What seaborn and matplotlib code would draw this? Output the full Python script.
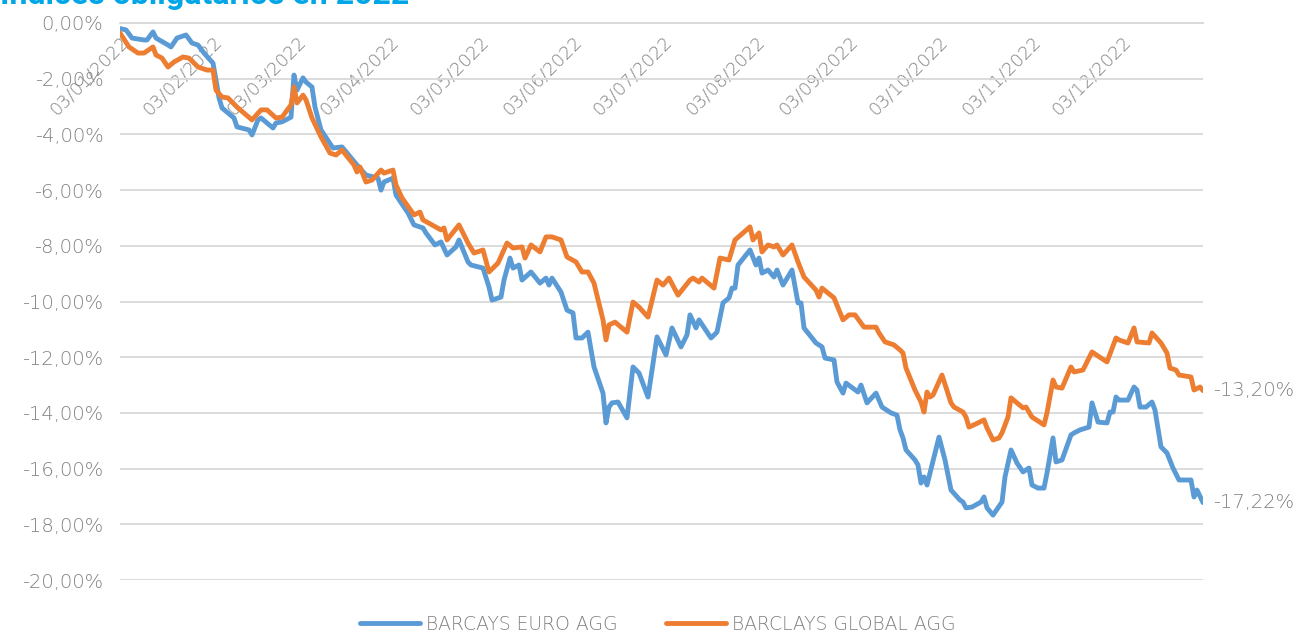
import pandas as pd
import matplotlib
matplotlib.use('Agg')
import matplotlib.pyplot as plt
import matplotlib.dates as mdates
import seaborn as sns

# Datos (rentabilidad acumulada en %)
euro_dates = [
    '2022-01-03', '2022-01-05', '2022-01-07', '2022-01-11', '2022-01-12', '2022-01-14', '2022-01-15',
    '2022-01-19', '2022-01-20', '2022-01-22', '2022-01-25', '2022-01-27', '2022-01-29', '2022-01-31',
    '2022-02-03', '2022-02-04', '2022-02-05', '2022-02-06', '2022-02-10', '2022-02-11', '2022-02-15',
    '2022-02-16', '2022-02-18', '2022-02-19', '2022-02-23', '2022-02-24', '2022-02-26', '2022-03-01',
    '2022-03-02', '2022-03-03', '2022-03-05', '2022-03-06', '2022-03-08', '2022-03-09', '2022-03-11',
    '2022-03-15', '2022-03-18', '2022-03-23', '2022-03-26', '2022-03-30', '2022-03-31', '2022-04-01',
    '2022-04-04', '2022-04-05', '2022-04-09', '2022-04-11', '2022-04-14', '2022-04-15', '2022-04-18',
    '2022-04-20', '2022-04-22', '2022-04-25', '2022-04-26', '2022-04-29', '2022-04-30', '2022-05-04',
    '2022-05-06', '2022-05-07', '2022-05-10', '2022-05-11', '2022-05-13', '2022-05-14', '2022-05-16',
    '2022-05-17', '2022-05-20', '2022-05-23', '2022-05-25', '2022-05-26', '2022-05-27', '2022-05-30',
    '2022-06-01', '2022-06-03', '2022-06-04', '2022-06-06', '2022-06-08', '2022-06-10', '2022-06-13',
    '2022-06-14', '2022-06-15', '2022-06-16', '2022-06-18', '2022-06-21', '2022-06-23', '2022-06-25',
    '2022-06-28', '2022-07-01', '2022-07-04', '2022-07-06', '2022-07-09', '2022-07-11', '2022-07-12',
    '2022-07-14', '2022-07-15', '2022-07-19', '2022-07-21', '2022-07-23', '2022-07-25', '2022-07-26',
    '2022-07-27', '2022-07-28', '2022-08-01', '2022-08-03', '2022-08-04', '2022-08-05', '2022-08-07',
    '2022-08-09', '2022-08-10', '2022-08-12', '2022-08-15', '2022-08-17', '2022-08-18', '2022-08-19',
    '2022-08-23', '2022-08-25', '2022-08-26', '2022-08-29', '2022-08-30', '2022-09-01', '2022-09-02',
    '2022-09-06', '2022-09-07', '2022-09-09', '2022-09-12', '2022-09-14', '2022-09-17', '2022-09-19',
    '2022-09-20', '2022-09-21', '2022-09-22', '2022-09-25', '2022-09-26', '2022-09-27', '2022-09-28',
    '2022-09-29', '2022-10-03', '2022-10-05', '2022-10-07', '2022-10-10', '2022-10-11', '2022-10-12',
    '2022-10-14', '2022-10-17', '2022-10-18', '2022-10-19', '2022-10-21', '2022-10-24', '2022-10-25',
    '2022-10-27', '2022-10-29', '2022-10-31', '2022-11-02', '2022-11-03', '2022-11-05', '2022-11-07',
    '2022-11-08', '2022-11-10', '2022-11-11', '2022-11-13', '2022-11-16', '2022-11-17', '2022-11-19',
    '2022-11-22', '2022-11-23', '2022-11-25', '2022-11-28', '2022-11-29', '2022-11-30', '2022-12-01',
    '2022-12-02', '2022-12-05', '2022-12-07', '2022-12-08', '2022-12-09', '2022-12-11', '2022-12-13',
    '2022-12-14', '2022-12-16', '2022-12-18', '2022-12-20', '2022-12-22', '2022-12-26', '2022-12-27',
    '2022-12-28', '2022-12-30',
]
euro_values = [
    -0.20, -0.25, -0.54, -0.61, -0.61, -0.32, -0.54,
    -0.79, -0.86, -0.54, -0.43, -0.72, -0.79, -1.08,
    -1.44, -2.05, -2.69, -3.05, -3.41, -3.73, -3.84,
    -4.02, -3.48, -3.41, -3.77, -3.59, -3.55, -3.38,
    -1.87, -2.41, -1.97, -2.12, -2.30, -3.02, -3.84,
    -4.49, -4.45, -5.10, -5.46, -5.57, -6.00, -5.71,
    -5.57, -6.18, -6.82, -7.25, -7.36, -7.54, -7.97,
    -7.86, -8.33, -8.04, -7.79, -8.58, -8.69, -8.80,
    -9.48, -9.95, -9.84, -9.23, -8.44, -8.80, -8.69,
    -9.23, -8.94, -9.34, -9.16, -9.41, -9.16, -9.66,
    -10.31, -10.41, -11.31, -11.31, -11.10, -12.35, -13.29,
    -14.36, -13.79, -13.64, -13.61, -14.18, -12.35, -12.57,
    -13.43, -11.27, -11.92, -10.95, -11.63, -11.20, -10.48,
    -10.95, -10.66, -11.31, -11.10, -10.05, -9.87, -9.52,
    -9.52, -8.69, -8.15, -8.69, -8.44, -8.98, -8.87,
    -9.12, -8.87, -9.41, -8.87, -10.05, -10.05, -10.95,
    -11.49, -11.63, -12.03, -12.10, -12.89, -13.29, -12.93,
    -13.25, -13.00, -13.64, -13.29, -13.79, -14.00, -14.08,
    -14.61, -14.90, -15.33, -15.69, -15.87, -16.52, -16.30,
    -16.59, -14.87, -15.69, -16.77, -17.13, -17.20, -17.41,
    -17.38, -17.20, -17.02, -17.41, -17.67, -17.20, -16.30,
    -15.33, -15.80, -16.12, -15.98, -16.59, -16.70, -16.70,
    -16.16, -14.90, -15.76, -15.69, -14.79, -14.72, -14.61,
    -14.51, -13.64, -14.33, -14.36, -13.97, -13.97, -13.43,
    -13.54, -13.54, -13.07, -13.18, -13.79, -13.79, -13.61,
    -13.90, -15.22, -15.44, -15.98, -16.41, -16.41, -17.02,
    -16.77, -17.22,
]

global_dates = [
    '2022-01-03', '2022-01-06', '2022-01-09', '2022-01-11', '2022-01-14', '2022-01-15', '2022-01-17',
    '2022-01-19', '2022-01-21', '2022-01-24', '2022-01-26', '2022-01-29', '2022-02-01', '2022-02-03',
    '2022-02-04', '2022-02-06', '2022-02-08', '2022-02-11', '2022-02-16', '2022-02-19', '2022-02-21',
    '2022-02-24', '2022-02-26', '2022-03-01', '2022-03-02', '2022-03-03', '2022-03-05', '2022-03-06',
    '2022-03-08', '2022-03-11', '2022-03-14', '2022-03-16', '2022-03-18', '2022-03-22', '2022-03-23',
    '2022-03-24', '2022-03-26', '2022-03-28', '2022-03-31', '2022-04-01', '2022-04-04', '2022-04-05',
    '2022-04-07', '2022-04-11', '2022-04-13', '2022-04-14', '2022-04-17', '2022-04-20', '2022-04-21',
    '2022-04-22', '2022-04-26', '2022-04-29', '2022-05-01', '2022-05-04', '2022-05-06', '2022-05-09',
    '2022-05-12', '2022-05-14', '2022-05-17', '2022-05-18', '2022-05-20', '2022-05-23', '2022-05-25',
    '2022-05-27', '2022-05-30', '2022-06-01', '2022-06-04', '2022-06-06', '2022-06-08', '2022-06-10',
    '2022-06-13', '2022-06-14', '2022-06-15', '2022-06-17', '2022-06-21', '2022-06-23', '2022-06-25',
    '2022-06-28', '2022-07-01', '2022-07-03', '2022-07-05', '2022-07-08', '2022-07-12', '2022-07-13',
    '2022-07-15', '2022-07-16', '2022-07-20', '2022-07-22', '2022-07-25', '2022-07-27', '2022-08-01',
    '2022-08-02', '2022-08-04', '2022-08-05', '2022-08-07', '2022-08-09', '2022-08-10', '2022-08-12',
    '2022-08-15', '2022-08-17', '2022-08-19', '2022-08-23', '2022-08-24', '2022-08-25', '2022-08-29',
    '2022-09-01', '2022-09-03', '2022-09-05', '2022-09-07', '2022-09-08', '2022-09-12', '2022-09-13',
    '2022-09-15', '2022-09-18', '2022-09-20', '2022-09-21', '2022-09-22', '2022-09-25', '2022-09-27',
    '2022-09-28', '2022-09-29', '2022-09-30', '2022-10-01', '2022-10-04', '2022-10-07', '2022-10-08',
    '2022-10-11', '2022-10-12', '2022-10-13', '2022-10-16', '2022-10-18', '2022-10-19', '2022-10-21',
    '2022-10-23', '2022-10-24', '2022-10-26', '2022-10-27', '2022-10-29', '2022-10-31', '2022-11-01',
    '2022-11-03', '2022-11-07', '2022-11-08', '2022-11-10', '2022-11-11', '2022-11-13', '2022-11-16',
    '2022-11-17', '2022-11-20', '2022-11-23', '2022-11-26', '2022-11-28', '2022-12-01', '2022-12-02',
    '2022-12-05', '2022-12-07', '2022-12-08', '2022-12-12', '2022-12-13', '2022-12-16', '2022-12-18',
    '2022-12-19', '2022-12-21', '2022-12-22', '2022-12-26', '2022-12-27', '2022-12-29', '2022-12-30',
]
global_values = [
    -0.36, -0.86, -1.08, -1.08, -0.86, -1.15, -1.26,
    -1.58, -1.40, -1.22, -1.26, -1.58, -1.69, -1.69,
    -2.41, -2.66, -2.69, -3.02, -3.48, -3.12, -3.12,
    -3.41, -3.38, -2.94, -2.30, -2.87, -2.59, -2.76,
    -3.41, -4.09, -4.67, -4.74, -4.56, -5.10, -5.35,
    -5.17, -5.71, -5.64, -5.28, -5.39, -5.28, -5.82,
    -6.28, -6.89, -6.79, -7.07, -7.25, -7.43, -7.36,
    -7.79, -7.25, -7.90, -8.26, -8.15, -8.94, -8.62,
    -7.90, -8.08, -8.04, -8.44, -7.97, -8.22, -7.68,
    -7.68, -7.79, -8.40, -8.58, -8.94, -8.94, -9.34,
    -10.66, -11.38, -10.84, -10.74, -11.10, -10.02, -10.20,
    -10.56, -9.23, -9.41, -9.16, -9.77, -9.23, -9.16,
    -9.30, -9.16, -9.52, -8.44, -8.51, -7.79, -7.32,
    -7.79, -7.54, -8.22, -7.97, -8.04, -7.97, -8.33,
    -7.97, -8.58, -9.12, -9.59, -9.84, -9.52, -9.87,
    -10.66, -10.48, -10.48, -10.77, -10.92, -10.92, -11.13,
    -11.45, -11.56, -11.74, -11.85, -12.39, -13.18, -13.61,
    -13.97, -13.25, -13.43, -13.36, -12.64, -13.64, -13.79,
    -13.97, -14.15, -14.51, -14.36, -14.25, -14.54, -14.97,
    -14.90, -14.72, -14.15, -13.46, -13.64, -13.82, -13.79,
    -14.15, -14.43, -14.00, -12.82, -13.07, -13.11, -12.35,
    -12.53, -12.46, -11.81, -12.03, -12.17, -11.31, -11.38,
    -11.49, -10.95, -11.45, -11.49, -11.13, -11.49, -11.85,
    -12.39, -12.46, -12.64, -12.71, -13.18, -13.07, -13.20,
]

series_names = ['BARCAYS EURO AGG', 'BARCLAYS GLOBAL AGG']
series_colors = ['#5B9BD5', '#ED7D31']
month_ticks = pd.date_range('2022-01-03', periods=12, freq=pd.DateOffset(months=1))
y_ticks = list(range(0, -21, -2))
title_text = 'Índices obligatarios en 2022'

df = pd.concat([
    pd.DataFrame({'fecha': pd.to_datetime(euro_dates), 'valor': euro_values, 'serie': series_names[0]}),
    pd.DataFrame({'fecha': pd.to_datetime(global_dates), 'valor': global_values, 'serie': series_names[1]}),
], ignore_index=True)

sns.set_theme(style='white')
plt.rcParams['font.family'] = ['DejaVu Sans']
plt.rcParams['font.weight'] = 'light'
grey = '#808080'

fig = plt.figure(figsize=(12.98, 6.33), dpi=100)
ax = fig.add_axes([120 / 1298, 1 - 580 / 633, (1203 - 120) / 1298, (580 - 23) / 633])

sns.lineplot(data=df, x='fecha', y='valor', hue='serie', hue_order=series_names,
             palette=series_colors, linewidth=3.5, estimator=None, sort=False, ax=ax)

ax.set_ylim(-20, 0)
ax.set_xlim(pd.Timestamp('2022-01-03'), pd.Timestamp('2022-12-30'))
ax.set_yticks(y_ticks)
ax.set_yticklabels([('%.2f%%' % v).replace('.', ',') for v in y_ticks])
ax.yaxis.grid(True, color='#d9d9d9', linewidth=1.3)
ax.set_axisbelow(True)

# eje X cruzando en 0 (arriba), etiquetas rotadas dentro del gráfico
for s in ['left', 'right', 'top']:
    ax.spines[s].set_visible(False)
ax.spines['bottom'].set_position(('data', 0))
ax.spines['bottom'].set_color('#d9d9d9')
ax.spines['bottom'].set_linewidth(1.3)
ax.set_xticks(month_ticks)
ax.xaxis.set_major_formatter(mdates.DateFormatter('%d/%m/%Y'))
ax.tick_params(axis='x', direction='out', length=5, width=1.3, color='#d9d9d9',
               labelsize=13, labelcolor=grey, pad=2)
for lbl in ax.get_xticklabels():
    lbl.set_rotation(45)
    lbl.set_ha('right')
    lbl.set_va('top')
    lbl.set_rotation_mode('anchor')
ax.tick_params(axis='y', length=0, labelsize=14, labelcolor=grey, pad=12)
ax.set_xlabel('')
ax.set_ylabel('')

# etiquetas del último valor
ends = [(euro_dates[-1], euro_values[-1]), (global_dates[-1], global_values[-1])]
for d, v in ends:
    ax.annotate(('%.2f%%' % v).replace('.', ','), xy=(pd.Timestamp(d), v),
                xytext=(7, 0), textcoords='offset points', va='center', ha='left',
                fontsize=14, color=grey, annotation_clip=False)

handles, labels = ax.get_legend_handles_labels()
ax.get_legend().remove()
fig.legend(handles, labels, loc='center', bbox_to_anchor=(0.507, 0.014), ncol=2,
           frameon=False, fontsize=13.5, labelcolor=grey, handlelength=3.2,
           columnspacing=2.6, handletextpad=0.3)

fig.text(0.0, 1 - 4 / 633, title_text, color='#00A6E6', fontsize=23, fontweight='bold',
         ha='left', va='baseline', family=['Roboto', 'DejaVu Sans'])

fig.savefig('out.png', dpi=100)
